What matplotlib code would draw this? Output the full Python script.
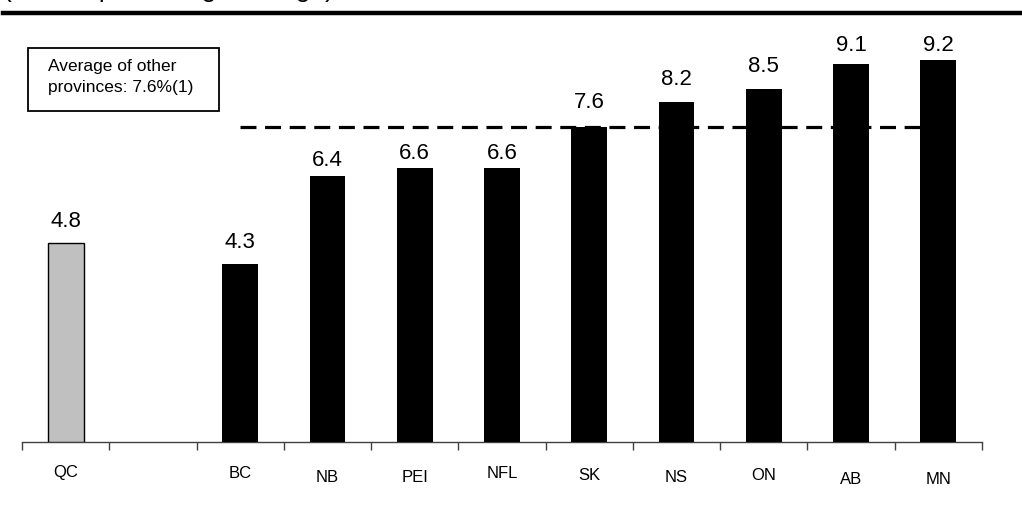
import matplotlib
matplotlib.use("Agg")
import matplotlib.pyplot as plt
from matplotlib.patches import Rectangle

provinces = ["QC", "", "BC", "NB", "PEI", "NFL", "SK", "NS", "ON", "AB", "MN"]
growth = [4.8, None, 4.3, 6.4, 6.6, 6.6, 7.6, 8.2, 8.5, 9.1, 9.2]
other_avg = 7.6
avg_note = "Average of other\nprovinces: 7.6%(1)"
title = "(annual percentage change)"

# hand-placed look of the source slide: label gaps above bars and
# small vertical nudges of the category labels (px)
value_gap = [16, 0, 16, 10, 9, 9, 19, 17, 17, 13, 9]
label_nudge = [0, 2, 2, 5, 5, 1, 3, 5, 4, 7, 7]

plt.rcParams["font.family"] = ["Liberation Sans", "DejaVu Sans"]

W, H = 1022, 509
fig = plt.figure(figsize=(W / 100, H / 100), dpi=100)
ax = fig.add_axes([22 / W, (H - 442) / H, 960 / W, 415 / H])

xs = list(range(len(provinces)))
for x, v, name, gap in zip(xs, growth, provinces, value_gap):
    if v is None:
        continue
    if name == "QC":
        ax.bar(x, v, width=0.41, color="#c0c0c0", edgecolor="black", linewidth=1.0, zorder=3)
    else:
        ax.bar(x, v, width=0.41, color="black", zorder=3)
    ax.annotate(f"{v:.1f}", (x, v), xytext=(0, gap * 0.72), textcoords="offset points",
                ha="center", va="baseline", fontsize=16, zorder=4)

# dashed average line, from BC to MN (behind the bars)
ax.plot([2, 10], [other_avg, other_avg], color="black", lw=2.3,
        dashes=(5, 2.7), zorder=2)

ax.set_xlim(-0.5, len(provinces) - 0.5)
ax.set_ylim(0, 10)
ax.set_xticks(xs)
ax.set_xticklabels([])
ax.set_xticks([i - 0.5 for i in range(len(provinces) + 1)], minor=True)
ax.tick_params(axis="x", which="major", length=0)
ax.tick_params(axis="x", which="minor", length=6, width=1, color="#404040", direction="out")
ax.set_yticks([])
for s in ["top", "right", "left"]:
    ax.spines[s].set_visible(False)
ax.spines["bottom"].set_color("#404040")
ax.spines["bottom"].set_linewidth(1.0)

for x, name, dy in zip(xs, provinces, label_nudge):
    ax.annotate(name, (x, 0), xytext=(0, -(30 + dy) * 0.72), textcoords="offset points",
                ha="center", va="center", fontsize=12)

# legend-like note box
fig.patches.append(Rectangle((28 / W, 1 - 111 / H), 191 / W, 63 / H,
                             transform=fig.transFigure, fill=False,
                             edgecolor="black", linewidth=1.3))
fig.text(48 / W, 1 - 77 / H, avg_note, ha="left", va="center", fontsize=12.5,
         linespacing=1.55)

# title mostly cut off at the top, with a thick rule under it
fig.text(3 / W, 1 + 3.5 / H, title, ha="left", va="baseline", fontsize=19)
fig.add_artist(plt.Line2D([3 / W, 1], [1 - 13 / H, 1 - 13 / H],
                          transform=fig.transFigure, color="black", lw=3.2))

fig.savefig("out.png", dpi=100)
